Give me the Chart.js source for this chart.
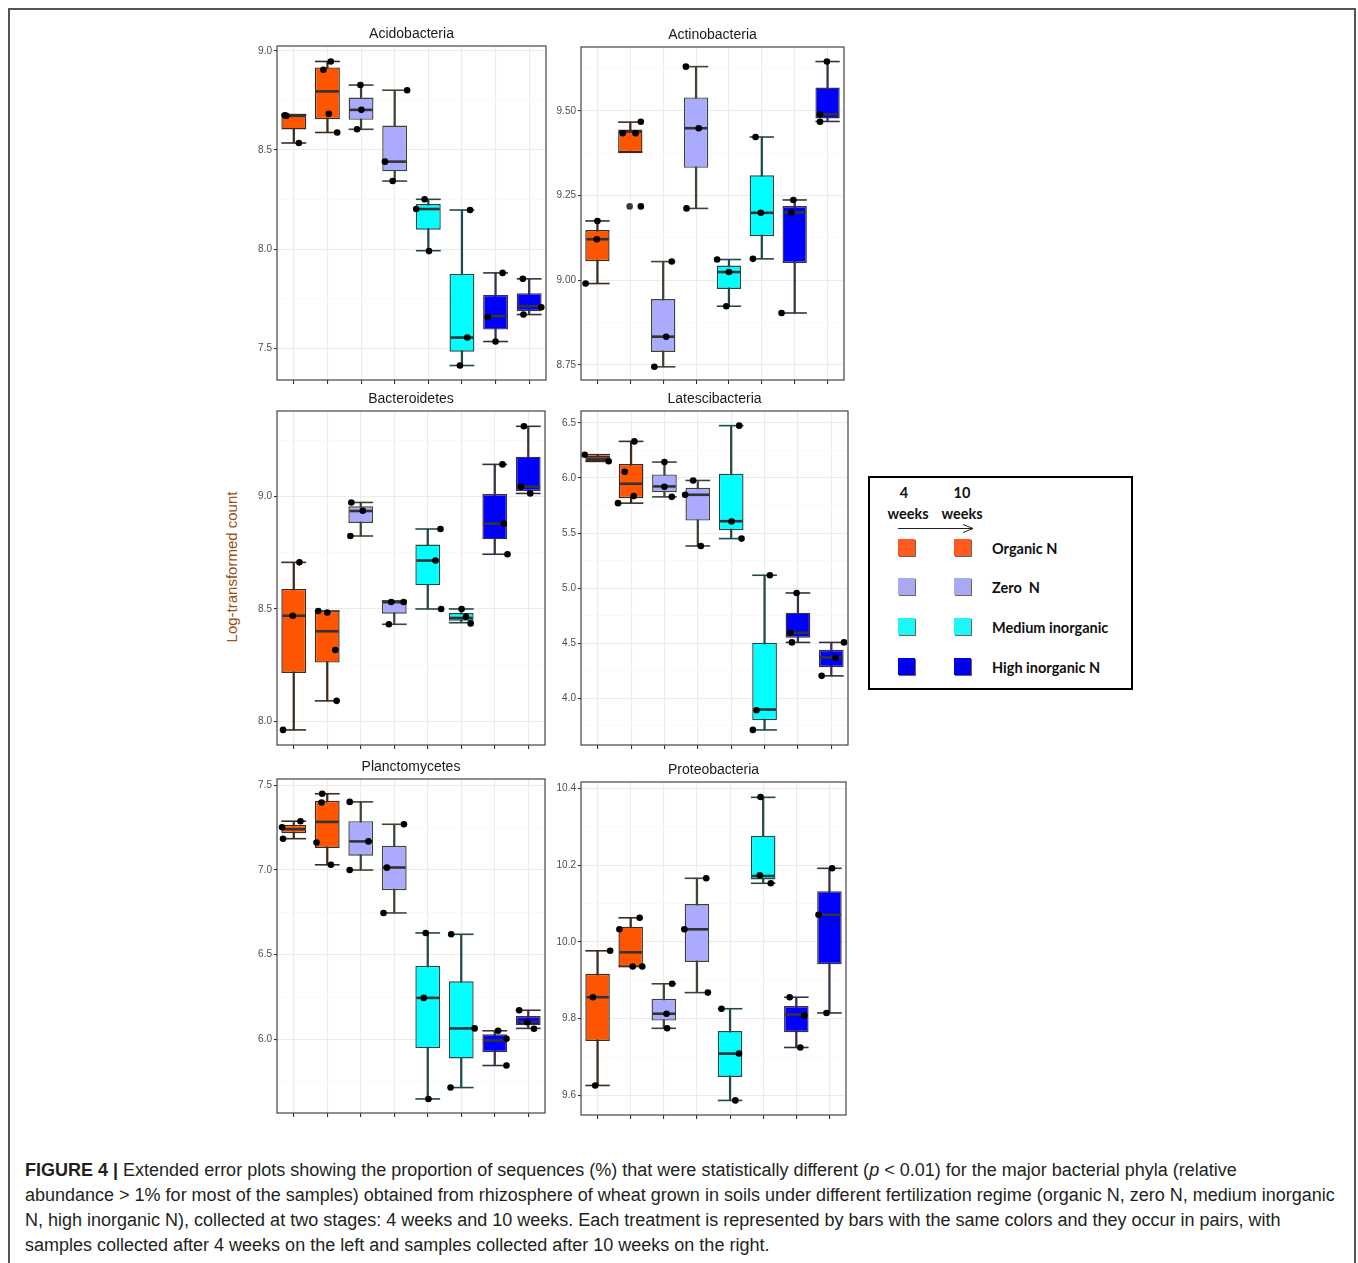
<!DOCTYPE html>
<html>
<head>
<meta charset="utf-8">
<script src="https://cdn.jsdelivr.net/npm/chart.js@4.4.1/dist/chart.umd.min.js"></script>
<style>
  body { margin: 0; background: #fff; width: 1358px; height: 1263px; overflow: hidden; position: relative; font-family: "Liberation Sans", Arial, sans-serif; }
  #frame { position: absolute; left: 8px; top: 8px; width: 1344px; height: 1300px; border: 2px solid #555; border-bottom: none; }
  canvas.panel { position: absolute; }
  #ylab { position: absolute; left: 231px; top: 567px; transform: translate(-50%, -50%) rotate(-90deg); white-space: nowrap; font-size: 15px; color: #9C4F14; }
  #legend { position: absolute; left: 868px; top: 476px; width: 261px; height: 210px; border: 2px solid #000; font-family: Lato, "Open Sans", sans-serif; font-weight: bold; font-size: 14.5px; color: #111; }
  #legend .t { position: absolute; transform: translate(-50%, -50%); white-space: nowrap; }
  #legend .sq { position: absolute; width: 17px; height: 17px; box-shadow: 1px 1px 0 #666; }
  #legend .lb { position: absolute; left: 122px; transform: translateY(-50%); white-space: nowrap; }
  #caption { position: absolute; left: 25px; top: 1158px; font-size: 18px; line-height: 25px; color: #231F20; white-space: nowrap; }
</style>
</head>
<body>
<div id="frame"></div>
<div id="ylab">Log-transformed count</div>
<div id="legend"></div>
<div id="caption"><b>FIGURE 4 |</b> Extended error plots showing the proportion of sequences (%) that were statistically different (<i>p</i> &lt; 0.01) for the major bacterial phyla (relative<br>abundance &gt; 1% for most of the samples) obtained from rhizosphere of wheat grown in soils under different fertilization regime (organic N, zero N, medium inorganic<br>N, high inorganic N), collected at two stages: 4 weeks and 10 weeks. Each treatment is represented by bars with the same colors and they occur in pairs, with<br>samples collected after 4 weeks on the left and samples collected after 10 weeks on the right.</div>
<script>
// treatments: 4 weeks / 10 weeks pairs
var treatments = ["Organic N", "Zero N", "Medium inorganic", "High inorganic N"];
var groupOf = [0, 0, 1, 1, 2, 2, 3, 3];

// box stats per category: [min, q1, median, q3, max]
var acidoBox = [[8.535, 8.603, 8.672, 8.678, 8.678], [8.588, 8.655, 8.795, 8.916, 8.946], [8.604, 8.652, 8.702, 8.764, 8.827], [8.343, 8.392, 8.441, 8.623, 8.801],
                [7.992, 8.098, 8.202, 8.227, 8.251], [7.413, 7.483, 7.554, 7.875, 8.197], [7.534, 7.594, 7.662, 7.769, 7.880], [7.670, 7.687, 7.712, 7.778, 7.850]];
var actinoBox = [[8.990, 9.056, 9.121, 9.148, 9.175], [9.378, 9.378, 9.439, 9.445, 9.467], [8.744, 8.788, 8.833, 8.944, 9.055], [9.212, 9.332, 9.449, 9.540, 9.631],
                 [8.923, 8.974, 9.024, 9.043, 9.061], [9.063, 9.130, 9.199, 9.310, 9.423], [8.903, 9.051, 9.200, 9.219, 9.237], [9.469, 9.478, 9.490, 9.569, 9.646]];
var bacteroBox = [[7.963, 8.216, 8.470, 8.589, 8.707], [8.092, 8.262, 8.401, 8.490, 8.491], [8.824, 8.882, 8.935, 8.956, 8.973], [8.432, 8.479, 8.530, 8.536, 8.536],
                  [8.500, 8.605, 8.715, 8.786, 8.855], [8.439, 8.448, 8.460, 8.482, 8.500], [8.743, 8.809, 8.879, 9.010, 9.142], [9.013, 9.024, 9.043, 9.176, 9.311]];
var latesciBox = [[6.151, 6.151, 6.175, 6.203, 6.212], [5.772, 5.817, 5.948, 6.127, 6.333], [5.829, 5.872, 5.924, 6.033, 6.145], [5.383, 5.614, 5.848, 5.911, 5.978],
                  [5.450, 5.526, 5.608, 6.039, 6.476], [3.712, 3.800, 3.897, 4.504, 5.117], [4.507, 4.549, 4.595, 4.777, 4.956], [4.203, 4.282, 4.370, 4.440, 4.507]];
var planctoBox = [[7.184, 7.216, 7.240, 7.265, 7.287], [7.030, 7.129, 7.283, 7.407, 7.449], [6.999, 7.084, 7.168, 7.287, 7.401], [6.746, 6.880, 7.014, 7.143, 7.269],
                  [5.649, 5.949, 6.245, 6.434, 6.628], [5.716, 5.888, 6.065, 6.343, 6.620], [5.846, 5.925, 5.994, 6.030, 6.051], [6.065, 6.083, 6.103, 6.138, 6.172]];
var proteoBox = [[9.626, 9.742, 9.856, 9.917, 9.977], [9.936, 9.936, 9.973, 10.040, 10.063], [9.775, 9.795, 9.813, 9.852, 9.891], [9.868, 9.948, 10.033, 10.099, 10.166],
                 [9.587, 9.648, 9.709, 9.768, 9.826], [10.153, 10.163, 10.172, 10.277, 10.377], [9.725, 9.765, 9.811, 9.833, 9.856], [9.815, 9.942, 10.071, 10.132, 10.192]];

// sample points per category: [jitter, value]
var acidoPts = [[[-0.27, 8.675], [-0.22, 8.672], [0.15, 8.535]], [[0.1, 8.946], [-0.12, 8.904], [0.04, 8.682], [0.29, 8.588]], [[-0.02, 8.827], [0.01, 8.702], [-0.12, 8.604]],
                [[0.37, 8.801], [-0.29, 8.441], [-0.06, 8.343]], [[-0.11, 8.251], [-0.36, 8.202], [0.02, 7.990]], [[0.24, 8.197], [0.16, 7.554], [-0.06, 7.413]],
                [[0.21, 7.880], [-0.23, 7.658], [0, 7.534]], [[-0.19, 7.850], [0.36, 7.707], [-0.17, 7.670]]];
var actinoPts = [[[0, 9.175], [-0.02, 9.121], [-0.36, 8.990]], [[0.32, 9.468], [-0.23, 9.434], [0.16, 9.434], [0.32, 9.218]], [[0.26, 9.055], [0.09, 8.833], [-0.27, 8.744]],
                 [[-0.31, 9.631], [0.08, 9.449], [-0.29, 9.212]], [[-0.36, 9.061], [0, 9.024], [-0.08, 8.923]], [[-0.19, 9.423], [-0.03, 9.199], [-0.27, 9.063]],
                 [[-0.04, 9.237], [-0.1, 9.200], [-0.4, 8.903]], [[-0.02, 9.646], [-0.23, 9.490], [-0.23, 9.468]]];
var bacteroPts = [[[0.17, 8.707], [-0.03, 8.470], [-0.32, 7.963]], [[-0.27, 8.491], [0, 8.484], [0.24, 8.318], [0.28, 8.092]], [[-0.28, 8.973], [0.06, 8.936], [-0.31, 8.824]],
                  [[-0.09, 8.531], [0.28, 8.531], [-0.16, 8.432]], [[0.38, 8.855], [0.23, 8.715], [0.4, 8.500]], [[0.01, 8.500], [0.14, 8.465], [0.28, 8.436]],
                  [[0.23, 9.142], [0.27, 8.879], [0.38, 8.743]], [[-0.13, 9.311], [-0.22, 9.043], [0.06, 9.013]]];
var latesciPts = [[[-0.39, 6.212], [0.33, 6.152]], [[0.1, 6.333], [-0.19, 6.057], [0.08, 5.836], [-0.39, 5.772]], [[0, 6.145], [0, 5.921], [0.22, 5.829]],
                  [[-0.14, 5.978], [-0.38, 5.848], [0.09, 5.383]], [[0.24, 6.476], [0.01, 5.605], [0.31, 5.450]], [[0.16, 5.117], [-0.24, 3.891], [-0.35, 3.712]],
                  [[-0.04, 4.956], [-0.23, 4.592], [-0.18, 4.507]], [[0.38, 4.507], [0.13, 4.367], [-0.29, 4.203]]];
var planctoPts = [[[0.2, 7.287], [-0.35, 7.251], [-0.32, 7.184]], [[-0.15, 7.449], [-0.17, 7.397], [-0.32, 7.161], [0.11, 7.030]], [[-0.33, 7.401], [0.23, 7.168], [-0.33, 6.999]],
                  [[0.29, 7.269], [-0.22, 7.013], [-0.32, 6.746]], [[-0.06, 6.628], [-0.12, 6.245], [0.02, 5.649]], [[-0.3, 6.620], [0.4, 6.065], [-0.32, 5.716]],
                  [[0.1, 6.051], [0.35, 6.004], [0.35, 5.846]], [[-0.27, 6.172], [-0.03, 6.101], [0.17, 6.063]]];
var proteoPts = [[[0.38, 9.977], [-0.14, 9.856], [-0.07, 9.626]], [[0.27, 10.063], [-0.34, 10.033], [0.06, 9.936], [0.35, 9.936]], [[0.25, 9.891], [0.08, 9.813], [0.1, 9.775]],
                 [[0.28, 10.166], [-0.38, 10.033], [0.33, 9.868]], [[-0.26, 9.826], [0.27, 9.709], [0.16, 9.587]], [[-0.08, 10.378], [-0.1, 10.174], [0.23, 10.153]],
                 [[-0.2, 9.856], [0.24, 9.808], [0.12, 9.725]], [[0.08, 10.192], [-0.33, 10.071], [-0.09, 9.815]]];

// outliers: [category, jitter, value]
var actinoOut = [[2, -0.02, 9.218]];

// y tick labels and axis ranges
var acidoTicks = ["7.5", "8.0", "8.5", "9.0"];
var actinoTicks = ["8.75", "9.00", "9.25", "9.50"];
var bacteroTicks = ["8.0", "8.5", "9.0"];
var latesciTicks = ["4.0", "4.5", "5.0", "5.5", "6.0", "6.5"];
var planctoTicks = ["6.0", "6.5", "7.0", "7.5"];
var proteoTicks = ["9.6", "9.8", "10.0", "10.2", "10.4"];
var acidoRange = [7.34, 9.024], actinoRange = [8.705, 9.689], bacteroRange = [7.896, 9.379];
var latesciRange = [3.575, 6.609], planctoRange = [5.566, 7.536], proteoRange = [9.549, 10.417];

// styling
var fillColors = ["#FF5500", "#AAAAFF", "#00FFFF", "#0000FF"];
var edgeColors = ["#3F2A1E", "#3A4632", "#1F4A4A", "#3A2E44"];
var legendColors = ["#FF5A1F", "#A9A9F2", "#1CF7F7", "#0000EE"];
var BOXW = 0.74;

function fHalfBox(c) {
    var s = c.chart.scales.x;
    return (s.getPixelForValue(2) - s.getPixelForValue(1)) * BOXW / 2;
}

var panelBorder = {
    id: "panelBorder",
    afterDraw: function (chart) {
        var a = chart.chartArea, ctx = chart.ctx;
        ctx.save(); ctx.strokeStyle = "#444"; ctx.lineWidth = 1.2;
        ctx.strokeRect(a.left, a.top, a.right - a.left, a.bottom - a.top);
        ctx.restore();
    }
};

function fBuildPanel(L, T, R, B, Title, Box, Pts, Outs, Ticks, Range) {
    var cv = document.createElement("canvas");
    cv.className = "panel";
    var W = R - L + 48, H = B - T + 42;
    cv.width = W; cv.height = H;
    cv.style.left = (L - 45) + "px"; cv.style.top = (T - 26) + "px";
    document.body.appendChild(cv);

    var major = Ticks.map(function (t) { return parseFloat(t); });
    var step = major[1] - major[0];
    var allTicks = [];
    for (var v = major[0] - step / 2; v <= Range[1] + 1e-9; v += step / 2) {
        if (v >= Range[0]) allTicks.push(Math.round(v * 1000) / 1000);
    }
    function fIsMajor(v) { return major.some(function (m) { return Math.abs(m - v) < 1e-6; }); }

    var whisk = [], caps = [], boxes = [], meds = [], pts = [], outs = [];
    for (var i = 0; i < Box.length; i++) {
        var b = Box[i];
        whisk.push({ x: i + 1, y: [b[0], b[4]] });
        caps.push({ x: i + 1, y: b[0] }); caps.push({ x: i + 1, y: b[4] });
        boxes.push({ x: i + 1, y: [b[1], b[3]] });
        meds.push({ x: i + 1, y: b[2] });
        for (var k = 0; k < Pts[i].length; k++) pts.push({ x: i + 1 + Pts[i][k][0], y: Pts[i][k][1] });
    }
    for (var j = 0; j < Outs.length; j++) outs.push({ x: Outs[j][0] + Outs[j][1], y: Outs[j][2] });

    var fills = groupOf.map(function (g) { return fillColors[g]; });
    var edges = groupOf.map(function (g) { return edgeColors[g]; });
    var capEdges = [];
    groupOf.forEach(function (g) { capEdges.push(edgeColors[g]); capEdges.push(edgeColors[g]); });

    new Chart(cv, {
        type: "bar",
        data: {
            datasets: [
                { type: "bar", data: whisk, barThickness: 1.6, backgroundColor: edges, grouped: false, order: 4 },
                { type: "scatter", data: caps, pointStyle: "line", pointRadius: fHalfBox, pointBorderWidth: 1.6, pointBorderColor: capEdges, order: 3 },
                { type: "bar", data: boxes, backgroundColor: fills, borderColor: edges, borderWidth: 1.4, borderSkipped: false,
                  barPercentage: BOXW, categoryPercentage: 1, grouped: false, order: 2 },
                { type: "scatter", data: meds, pointStyle: "line", pointRadius: function (c) { return fHalfBox(c) - 1; }, pointBorderWidth: 2.6, pointBorderColor: "#333", order: 1 },
                { type: "scatter", data: pts, pointRadius: 3.3, pointBackgroundColor: "#000", pointBorderWidth: 0, order: 0 },
                { type: "scatter", data: outs, pointRadius: 3.3, pointBackgroundColor: "#3a3a3a", pointBorderWidth: 0, order: 0 }
            ]
        },
        options: {
            responsive: false, animation: false, events: [],
            layout: { padding: { left: 0, right: 3, top: 0, bottom: 0 } },
            plugins: {
                legend: { display: false }, tooltip: { enabled: false },
                title: { display: true, text: Title, fullSize: false, color: "#1a1a1a",
                         font: { family: "Liberation Sans", size: 14, weight: "normal" }, padding: { top: 6, bottom: 3.2 } }
            },
            scales: {
                x: {
                    type: "linear", min: 0.5, max: 8.5, offset: false,
                    afterBuildTicks: function (s) { s.ticks = [1, 2, 3, 4, 5, 6, 7, 8].map(function (v) { return { value: v }; }); },
                    afterFit: function (s) { s.height = 16; },
                    ticks: { display: false },
                    grid: { offset: false, color: "#EBEBEB", lineWidth: 1.1, drawTicks: true, tickLength: 4, tickColor: "#333" },
                    border: { display: false }
                },
                y: {
                    type: "linear", min: Range[0], max: Range[1],
                    afterBuildTicks: function (s) { s.ticks = allTicks.map(function (v) { return { value: v }; }); },
                    afterFit: function (s) { s.width = 45; },
                    ticks: {
                        padding: 2, color: "#4D4D4D", font: { family: "Liberation Sans", size: 10 },
                        callback: function (v) { var ix = major.findIndex(function (m) { return Math.abs(m - v) < 1e-6; }); return ix >= 0 ? Ticks[ix] : ""; }
                    },
                    grid: {
                        color: function (c) { return c.tick && fIsMajor(c.tick.value) ? "#EBEBEB" : "#F5F5F5"; },
                        lineWidth: function (c) { return c.tick && fIsMajor(c.tick.value) ? 1.1 : 0.6; },
                        tickLength: 3,
                        tickColor: function (c) { return c.tick && fIsMajor(c.tick.value) ? "#333" : "rgba(0,0,0,0)"; }
                    },
                    border: { display: false }
                }
            }
        },
        plugins: [panelBorder]
    });
}

fBuildPanel(277, 46, 547, 380, "Acidobacteria", acidoBox, acidoPts, [], acidoTicks, acidoRange);
fBuildPanel(581, 47, 845, 380, "Actinobacteria", actinoBox, actinoPts, actinoOut, actinoTicks, actinoRange);
fBuildPanel(277, 411, 546, 745, "Bacteroidetes", bacteroBox, bacteroPts, [], bacteroTicks, bacteroRange);
fBuildPanel(581, 411, 849, 745, "Latescibacteria", latesciBox, latesciPts, [], latesciTicks, latesciRange);
fBuildPanel(277, 779, 546, 1113, "Planctomycetes", planctoBox, planctoPts, [], planctoTicks, planctoRange);
fBuildPanel(581, 782, 847, 1115, "Proteobacteria", proteoBox, proteoPts, [], proteoTicks, proteoRange);

// legend (HTML)
var lg = document.getElementById("legend");
function fAdd(html, cls, x, y) {
    var d = document.createElement("div"); d.className = cls; d.innerHTML = html;
    d.style.left = x + "px"; d.style.top = y + "px"; lg.appendChild(d); return d;
}
fAdd("4", "t", 34, 14); fAdd("weeks", "t", 38, 35);
fAdd("10", "t", 92, 14); fAdd("weeks", "t", 92, 35);
fAdd('<svg width="80" height="10"><line x1="1" y1="5" x2="76" y2="5" stroke="#222" stroke-width="1"/><polyline points="66,1 76,5 66,9" fill="none" stroke="#222" stroke-width="1"/></svg>', "t", 67, 50);
var rowY = [70, 109, 149, 189];
for (var r = 0; r < treatments.length; r++) {
    var s1 = fAdd("", "sq", 28, rowY[r] - 9); s1.style.background = legendColors[r];
    var s2 = fAdd("", "sq", 84, rowY[r] - 9); s2.style.background = legendColors[r];
    fAdd(treatments[r].replace("Zero N", "Zero&nbsp; N"), "lb", 122, rowY[r]);
}
</script>
</body>
</html>
